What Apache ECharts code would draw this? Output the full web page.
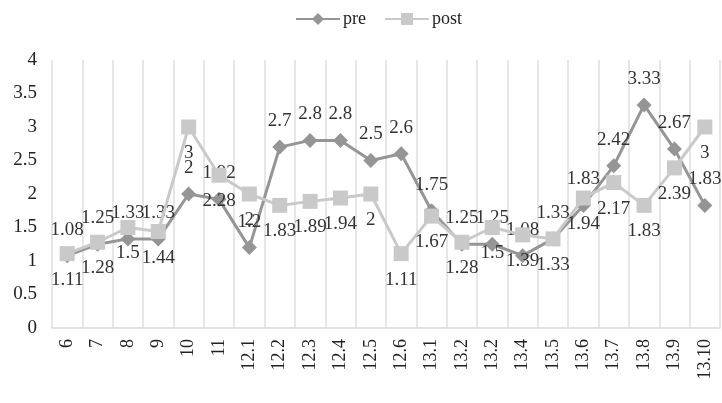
<!DOCTYPE html>
<html><head><meta charset="utf-8">
<script src="https://cdn.jsdelivr.net/npm/echarts@6/dist/echarts.min.js"></script>
<style>html,body{margin:0;padding:0;background:#fff}#c{width:722px;height:403px}</style>
</head><body><div id="c"></div>
<script>
const categories = ['6','7','8','9','10','11','12.1','12.2','12.3','12.4','12.5','12.6','13.1','13.2','13.2','13.4','13.5','13.6','13.7','13.8','13.9','13.10'];
const preValues  = [1.08,1.25,1.33,1.33,2,1.92,1.2,2.7,2.8,2.8,2.5,2.6,1.75,1.25,1.25,1.08,1.33,1.83,2.42,3.33,2.67,1.83];
const postValues = [1.11,1.28,1.5,1.44,3,2.28,2,1.83,1.89,1.94,2,1.11,1.67,1.28,1.5,1.39,1.33,1.94,2.17,1.83,2.39,3];
const yTicks = [0,0.5,1,1.5,2,2.5,3,3.5,4];

const FONT = '"Liberation Serif", "DejaVu Serif", serif';
const chart = echarts.init(document.getElementById('c'));
chart.setOption({
  animation: false,
  textStyle: { fontFamily: FONT },
  legend: {
    top: 5, left: 290, itemWidth: 44, itemHeight: 15, itemGap: 18,
    textStyle: { fontFamily: FONT, fontSize: 18, color: '#222', padding: [0, 0, 0, -2] },
    data: ['pre', 'post']
  },
  grid: { left: 52, right: 2, top: 60, bottom: 75 },
  xAxis: {
    type: 'category', data: categories, boundaryGap: true,
    axisLine: { lineStyle: { color: '#d9d9d9', width: 1.5 } },
    axisTick: { show: false },
    splitLine: { show: true, lineStyle: { color: '#dedede', width: 1.5 } },
    axisLabel: { rotate: 90, interval: 0, fontFamily: FONT, fontSize: 18, color: '#222', margin: 11 }
  },
  yAxis: {
    type: 'value', min: yTicks[0], max: yTicks[yTicks.length - 1], interval: 0.5,
    axisLine: { show: false }, axisTick: { show: false }, splitLine: { show: false },
    axisLabel: { fontFamily: FONT, fontSize: 19, color: '#222', margin: 15 }
  },
  series: [
    {
      name: 'pre', type: 'line', data: preValues,
      symbol: 'diamond', symbolSize: 15,
      lineStyle: { color: '#959595', width: 3 },
      itemStyle: { color: '#959595' },
      label: { show: true, position: 'top', distance: 9, fontFamily: FONT, fontSize: 19, color: '#333' },
      z: 2
    },
    {
      name: 'post', type: 'line', data: postValues,
      symbol: 'rect', symbolSize: 15,
      lineStyle: { color: '#c9c9c9', width: 3 },
      itemStyle: { color: '#c9c9c9' },
      label: { show: true, position: 'bottom', distance: 9, fontFamily: FONT, fontSize: 19, color: '#333' },
      z: 3
    }
  ]
});
</script></body></html>
